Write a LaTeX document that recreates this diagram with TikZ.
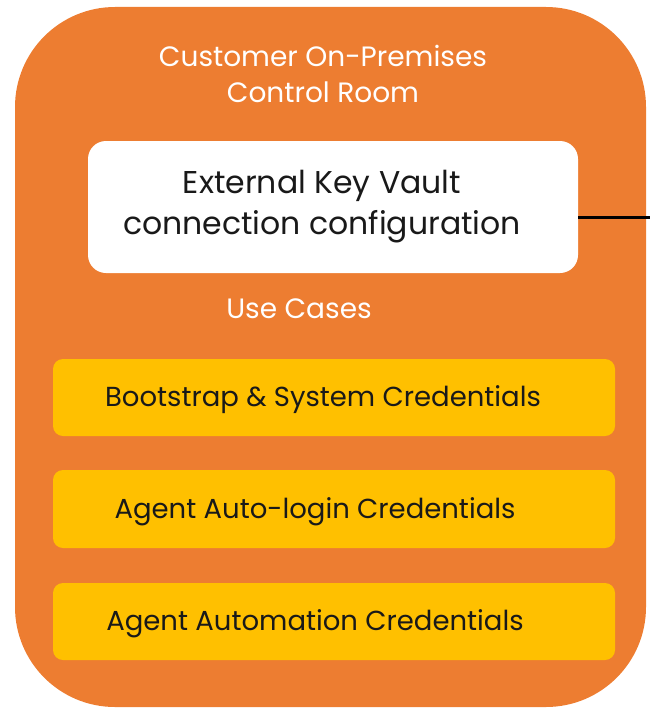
\documentclass[tikz,border=0pt]{standalone}
\usepackage{fontspec}
\setmainfont{Poppins}
\definecolor{outerorange}{HTML}{ED7D31}
\definecolor{caseyellow}{HTML}{FFC000}
\begin{document}
\begin{tikzpicture}[x=1pt,y=-1pt,
  room/.style={fill=outerorange,rounded corners=100pt},
  vaultbox/.style={fill=white,rounded corners=18pt},
  casebox/.style={fill=caseyellow,rounded corners=10pt},
  titletext/.style={text=white,font=\fontsize{28}{36}\selectfont,align=center},
  vaulttext/.style={text=black!90,font=\fontsize{31.5}{41}\selectfont,align=center},
  casetext/.style={text=black!90,font=\fontsize{27.5}{30}\selectfont},
  link/.style={line width=3pt,black}]
\useasboundingbox (0,0) rectangle (650,709);
\path[room] (15,7) rectangle (646,707);
\node[titletext] (title) at (323,74) {Customer On-Premises\\Control Room};
\path[vaultbox] (88,141) rectangle (578,273);
\node[vaulttext] (vault) at (322,207) {External Key Vault\\connection configuration};
\coordinate (vaulteast) at (578,217);
\coordinate (linkend) at (650,217);
\draw[link] (vaulteast) -- (linkend);
\node[titletext] (usecases) at (299,309) {Use Cases};
\path[casebox] (53,359) rectangle (615,436);
\path[casebox] (53,470) rectangle (615,548);
\path[casebox] (53,583) rectangle (615,660);
\node[casetext] (case1) at (323,400) {Bootstrap \& System Credentials};
\node[casetext] (case2) at (315,512) {Agent Auto-login Credentials};
\node[casetext] (case3) at (315,624) {Agent Automation Credentials};
\end{tikzpicture}
\end{document}
